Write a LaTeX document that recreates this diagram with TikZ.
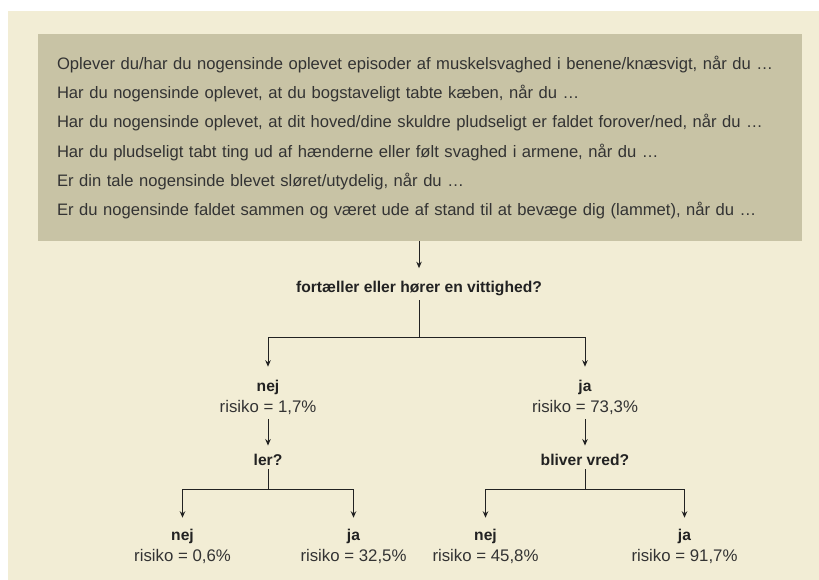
\documentclass[tikz,border=0pt]{standalone}
\usepackage{fontspec}
\setmainfont{Liberation Sans}[BoldFeatures={Scale=0.93}]
\usetikzlibrary{arrows.meta}
\definecolor{cream}{HTML}{F2EDD5}
\definecolor{boxgray}{HTML}{C8C3A5}
\definecolor{textgray}{HTML}{333333}
\definecolor{inkgray}{HTML}{222222}

\begin{document}
\begin{tikzpicture}[
		x=1pt, y=1pt,
		link/.style={draw=inkgray, line width=1pt, -{Stealth[length=6.5pt,width=5.5pt]}},
		edge from parent/.style={link},
		level 1/.style={sibling distance=317pt, level distance=123.85pt,
				edge from parent path={(\tikzparentnode.south) -- ++(0,-37pt) -| ([yshift=9pt]\tikzchildnode.north)}},
		level 2/.style={level distance=67.75pt,
				edge from parent path={(\tikzparentnode.south) -- ([yshift=4pt]\tikzchildnode.north)}},
		level 3/.style={level distance=102.1pt,
				edge from parent path={(\tikzparentnode.south) -- ++(0,-20.5pt) -| ([yshift=7pt]\tikzchildnode.north)}},
		every node/.style={
				anchor=base,
				align=center,
				inner xsep=0pt,
				inner ysep=4pt,
				text=textgray,
				font=\fontsize{16.8}{21.3}\selectfont
			},
		question/.style={text=inkgray, font=\fontsize{16.8}{21.3}\selectfont\bfseries},
		symptombox/.style={
				anchor=center,
				fill=boxgray,
				minimum width=764pt,
				minimum height=207pt,
				text width=726pt,
				inner xsep=19pt,
				inner ysep=0pt,
				align=left,
				font=\fontsize{16.6}{29.28}\selectfont
			}
	]
	\useasboundingbox (0,0) rectangle (819,-580);
	\fill[cream] (8,-11) rectangle (819,-580);

	\node[symptombox] (symptoms) at (420,-137.5) {Oplever du/har du nogensinde oplevet episoder af muskelsvaghed i benene/knæsvigt, når du …\\
		Har du nogensinde oplevet, at du bogstaveligt tabte kæben, når du …\\
		Har du nogensinde oplevet, at dit hoved/dine skuldre pludseligt er faldet forover/ned, når du …\\
		Har du pludseligt tabt ting ud af hænderne eller følt svaghed i armene, når du …\\
		Er din tale nogensinde blevet sløret/utydelig, når du …\\
		Er du nogensinde faldet sammen og været ude af stand til at bevæge dig (lammet), når du …};

	\node[question] (vittighed) at (419,-292.7) {fortæller eller hører en vittighed?}
	child[xshift=7.5pt] {node (nej) {\textbf{\color{inkgray}nej}\\risiko = 1,7\%}
			child {node[question] (ler) {ler?}
					child[sibling distance=171pt] {node (lernej) {\textbf{\color{inkgray}nej}\\risiko = 0,6\%}}
					child[sibling distance=171pt] {node (lerja) {\textbf{\color{inkgray}ja}\\risiko = 32,5\%}}
				}
		}
	child[xshift=7.5pt] {node (ja) {\textbf{\color{inkgray}ja}\\risiko = 73,3\%}
			child {node[question] (vred) {bliver vred?}
					child[sibling distance=199pt] {node (vrednej) {\textbf{\color{inkgray}nej}\\risiko = 45,8\%}}
					child[sibling distance=199pt] {node (vredja) {\textbf{\color{inkgray}ja}\\risiko = 91,7\%}}
				}
		};

	\draw[link] (vittighed.north |- symptoms.south) -- ([yshift=9pt]vittighed.north);
\end{tikzpicture}
\end{document}
